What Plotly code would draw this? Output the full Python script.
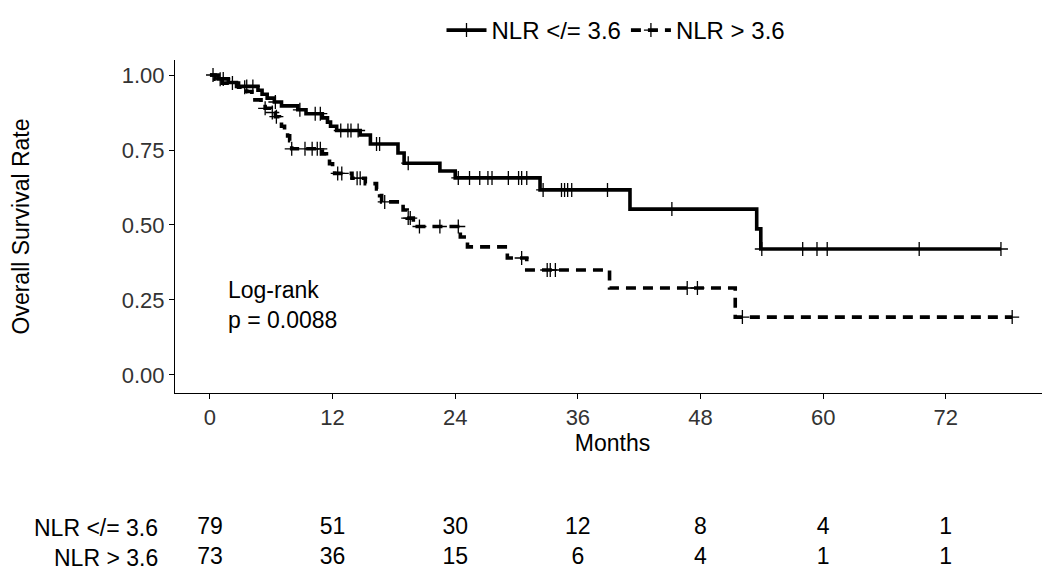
import plotly.graph_objects as go

# Kaplan-Meier step values (months, survival)
low_t = [0, 0.8, 1.8, 2.6, 4.7, 5.1, 5.6, 6.3, 7.0, 8.6, 9.4, 11.0, 11.5, 11.8, 12.4,
         14.7, 15.7, 18.4, 19.0, 22.5, 24.0, 32.3, 41.1, 53.5, 53.9]
low_s = [1.0, 0.987, 0.975, 0.962, 0.949, 0.936, 0.923, 0.910, 0.897, 0.884, 0.871,
         0.857, 0.843, 0.829, 0.815, 0.800, 0.770, 0.740, 0.706, 0.680, 0.657, 0.617,
         0.553, 0.487, 0.420]
low_cens = [0.3, 1.3, 3.6, 4.2, 6.4, 8.8, 10.3, 10.8, 12.8, 13.5, 13.8, 14.5, 16.3, 16.6,
            19.4, 24.3, 25.4, 26.4, 27.2, 27.6, 29.2, 30.2, 30.5, 31.0, 32.6, 34.4, 34.7,
            35.0, 35.4, 38.9, 45.2, 54.0, 58.0, 59.4, 60.4, 69.4, 77.4]

high_t = [0, 0.5, 1.2, 2.8, 3.6, 4.1, 4.4, 5.0, 5.4, 6.0, 6.4, 6.8, 7.0, 7.3, 7.6, 7.8,
          8.0, 11.0, 11.4, 11.7, 12.0, 12.2, 13.9, 15.2, 16.3, 16.6, 16.8, 18.9, 19.3,
          19.9, 24.5, 25.2, 29.1, 31.0, 39.1, 51.4]
high_s = [1.0, 0.986, 0.973, 0.959, 0.945, 0.931, 0.917, 0.903, 0.889, 0.875, 0.861,
          0.845, 0.829, 0.813, 0.797, 0.781, 0.754, 0.737, 0.720, 0.704, 0.688, 0.672,
          0.656, 0.638, 0.620, 0.598, 0.577, 0.550, 0.523, 0.495, 0.460, 0.427, 0.390,
          0.350, 0.290, 0.193]
high_cens = [1.0, 2.2, 3.4, 5.4, 6.1, 6.5, 8.0, 9.3, 10.0, 10.5, 10.8, 12.5, 12.9, 14.4,
             14.7, 17.1, 19.4, 19.6, 20.5, 22.5, 24.3, 30.5, 33.0, 33.3, 33.8, 46.7,
             47.7, 52.1, 78.5]

groups = ["NLR </= 3.6", "NLR > 3.6"]
risk_times = [0, 12, 24, 36, 48, 60, 72]
risk_low = [79, 51, 30, 12, 8, 4, 1]
risk_high = [73, 36, 15, 6, 4, 1, 1]

FONT = "Liberation Sans, Arial, sans-serif"


def surv_at(times, surv, t):
    val = surv[0]
    for ti, si in zip(times, surv):
        if ti <= t:
            val = si
    return val


fig = go.Figure()

series = [
    (groups[0], low_t, low_s, low_cens, "solid"),
    (groups[1], high_t, high_s, high_cens, "10px,7px"),
]
for name, t, s, cens, dash in series:
    xs = t + [max(cens)]
    ys = s + [s[-1]]
    fig.add_trace(go.Scatter(x=xs, y=ys, mode="lines", line_shape="hv",
                             line=dict(color="black", width=3.6, dash=dash),
                             showlegend=False, xaxis="x", yaxis="y"))
    fig.add_trace(go.Scatter(x=cens, y=[surv_at(t, s, c) for c in cens], mode="markers",
                             marker=dict(symbol="cross-thin", size=10, color="black",
                                         line=dict(width=1.3, color="black")),
                             showlegend=False, xaxis="x", yaxis="y"))
    # legend entry
    fig.add_trace(go.Scatter(x=[None], y=[None], mode="lines+markers", name=name,
                             line=dict(color="black", width=3.6, dash=dash),
                             marker=dict(symbol="cross-thin", size=10, color="black",
                                         line=dict(width=1.3, color="black")),
                             xaxis="x", yaxis="y"))

# risk table
for row, label, counts in zip([1, 0], groups, [risk_low, risk_high]):
    fig.add_trace(go.Scatter(x=risk_times, y=[row] * len(risk_times), mode="text",
                             text=[str(c) for c in counts],
                             textfont=dict(family=FONT, size=23, color="black"),
                             showlegend=False, xaxis="x2", yaxis="y2",
                             cliponaxis=False))
    fig.add_annotation(x=-0.017, xref="paper", y=row, yref="y2", text=label,
                       showarrow=False, xanchor="right",
                       font=dict(family=FONT, size=23, color="black"))

fig.add_annotation(x=1.6, y=0.233, xref="x", yref="y", text="Log-rank<br>p = 0.0088",
                   showarrow=False, xanchor="left", align="left",
                   font=dict(family=FONT, size=23, color="black"))

# the page body adds an 8px offset, so the figure is 8px smaller than the window
fig.update_layout(
    width=1042, height=563,
    margin=dict(l=167, r=0, t=52, b=2),
    paper_bgcolor="white", plot_bgcolor="white",
    font=dict(family=FONT, color="black"),
    legend=dict(orientation="h", x=0.504, xanchor="center", y=1.0, yref="container",
                yanchor="top", font=dict(size=24), itemwidth=40),
    xaxis=dict(domain=[0, 1], range=[-3.42, 82.2], tickvals=risk_times,
               showline=True, linecolor="black", linewidth=1.2, ticks="outside",
               ticklen=5, tickcolor="black", showgrid=False, zeroline=False,
               tickfont=dict(size=22, color="#333333"), automargin=False,
               title=dict(text="Months", font=dict(size=23), standoff=0), anchor="y"),
    yaxis=dict(domain=[0.3458, 1], range=[-0.06, 1.05], tickvals=[0, 0.25, 0.5, 0.75, 1.0],
               tickformat=".2f", showline=True, linecolor="black", linewidth=1.2,
               ticks="outside", ticklen=5, tickcolor="black", showgrid=False,
               zeroline=False, tickfont=dict(size=22, color="#333333"), automargin=False,
               title=dict(text="Overall Survival Rate", font=dict(size=23), standoff=100),
               anchor="x"),
    xaxis2=dict(domain=[0, 1], matches="x", visible=False, anchor="y2"),
    yaxis2=dict(domain=[0, 0.2], range=[-0.367, 3.026], visible=False, anchor="x2"),
)

fig.write_html("out.html")
